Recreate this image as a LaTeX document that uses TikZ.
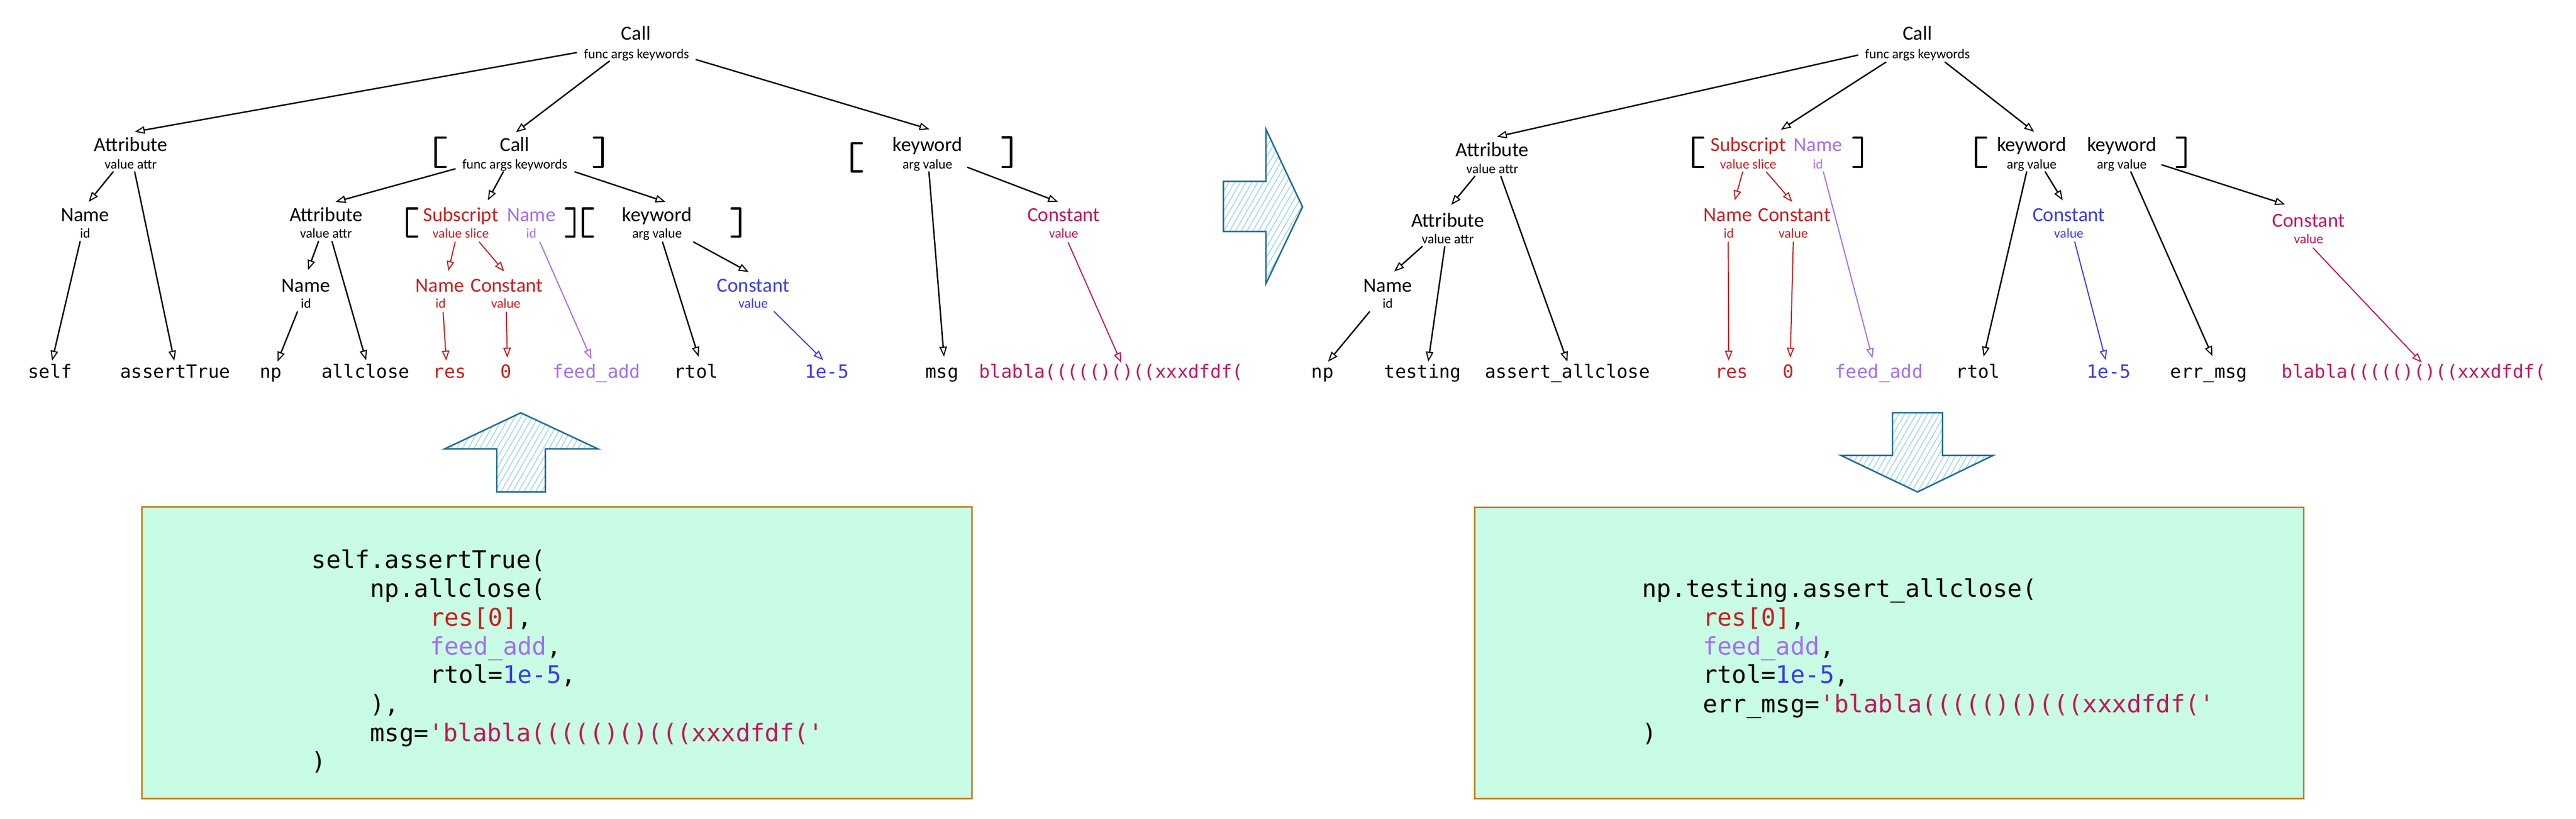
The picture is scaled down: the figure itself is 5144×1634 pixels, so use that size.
\documentclass[tikz,border=0pt]{standalone}
\usepackage{fontspec}
\setmonofont{DejaVu Sans Mono}
\newfontfamily\handfont{Carlito}
\usetikzlibrary{arrows.meta,calc,patterns.meta}
\definecolor{cRed}{HTML}{C92020}
\definecolor{cPur}{HTML}{A56EF0}
\definecolor{cBlue}{HTML}{3B3BF0}
\definecolor{cMag}{HTML}{C2185B}
\definecolor{boxFill}{HTML}{C8FCE4}
\definecolor{boxLine}{HTML}{C77D1A}
\definecolor{arrLine}{HTML}{1F6E96}
\definecolor{arrHatch}{HTML}{9AD3EA}
\newcommand\openbrk[3]{\draw[brk] (#1+20,#2) -- (#1,#2) -- (#1,#3) -- (#1+20,#3);}
\newcommand\closebrk[3]{\draw[brk] (#1-17,#2) -- (#1,#2) -- (#1,#3) -- (#1-17,#3);}
\begin{document}
\begin{tikzpicture}[x=1pt,y=-1pt,
  ttl/.style={font=\handfont\fontsize{40}{40}\selectfont, inner sep=0pt, text height=29pt, text depth=1pt},
  fld/.style={font=\handfont\fontsize{27}{27}\selectfont, inner sep=0pt, text height=18pt, text depth=4pt},
  leaf/.style={font=\ttfamily\fontsize{36.5}{36.5}\selectfont, inner sep=0pt, text height=30pt, text depth=4pt},
  code/.style={font=\ttfamily\fontsize{48.5}{57.6}\selectfont, inner sep=0pt, anchor=base west},
  ab/.style={-{Triangle[open,length=20pt,width=15pt,line width=2.2pt]}, line width=2.8pt, line cap=round},
  ared/.style={ab, draw=cRed, line width=2.2pt},
  apur/.style={ab, draw=cPur, line width=2.2pt},
  ablu/.style={ab, draw=cBlue, line width=2.2pt},
  amag/.style={ab, draw=cMag, line width=2.2pt},
  brk/.style={line width=4.5pt, line cap=round, line join=round},
  bigarrow/.style={draw=arrLine, line width=3pt, line join=miter, pattern={Lines[angle=60,distance=10pt,line width=1.6pt]}, pattern color=arrHatch},
  codebox/.style={draw=boxLine, fill=boxFill, line width=3pt, inner sep=0pt}
]
\useasboundingbox (0,0) rectangle (5144,1634);
\fill[white] (0,0) rectangle (5144,1634);

% ---------------- left tree ----------------
\node[ttl] (L0) at (1270,66) {Call};
\node[fld] (L0f) at (1271,110) {func args keywords};
\node[ttl] (LA) at (261,288) {Attribute};
\node[fld] (LAf) at (261,330) {value attr};
\node[ttl] (LN) at (170,428) {Name};
\node[fld] (LNf) at (170,468) {id};
\node[ttl] (LC) at (1028,288) {Call};
\node[fld] (LCf) at (1028,330) {func args keywords};
\node[ttl] (LA2) at (651,428) {Attribute};
\node[fld] (LA2f) at (651,468) {value attr};
\node[ttl] (LN2) at (611,569) {Name};
\node[fld] (LN2f) at (611,608) {id};
\node[ttl,text=cRed] (LS) at (920,428) {Subscript};
\node[fld,text=cRed] (LSf) at (920,468) {value slice};
\node[ttl,text=cPur] (LNp) at (1061,428) {Name};
\node[fld,text=cPur] (LNpf) at (1061,468) {id};
\node[ttl,text=cRed] (LNr) at (878,569) {Name};
\node[fld,text=cRed] (LNrf) at (880,608) {id};
\node[ttl,text=cRed] (LKr) at (1012,569) {Constant};
\node[fld,text=cRed] (LKrf) at (1010,608) {value};
\node[ttl] (LK) at (1312,428) {keyword};
\node[fld] (LKf) at (1312,468) {arg value};
\node[ttl,text=cBlue] (LCb) at (1504,569) {Constant};
\node[fld,text=cBlue] (LCbf) at (1504,608) {value};
\node[ttl] (LKt) at (1852,288) {keyword};
\node[fld] (LKtf) at (1852,330) {arg value};
\node[ttl,text=cMag] (LCm) at (2124,428) {Constant};
\node[fld,text=cMag] (LCmf) at (2124,468) {value};

\node[leaf] (lself) at (100,742) {self};
\node[leaf] (lassert) at (350,742) {assertTrue};
\node[leaf] (lnp) at (541,742) {np};
\node[leaf] (lallc) at (730,742) {allclose};
\node[leaf,text=cRed] (lres) at (898,742) {res};
\node[leaf,text=cRed] (lzero) at (1010,742) {0};
\node[leaf,text=cPur] (lfeed) at (1191,742) {feed\_add};
\node[leaf] (lrtol) at (1390,742) {rtol};
\node[leaf,text=cBlue] (le5) at (1651,742) {1e-5};
\node[leaf] (lmsg) at (1881,742) {msg};
\node[leaf,text=cMag] (lbla) at (2219,742) {blabla((((()()((xxxdfdf(};

\openbrk{870}{275}{333}
\closebrk{1203}{275}{333}
\openbrk{813}{416}{472}
\closebrk{1147}{416}{472}
\openbrk{1164}{416}{472}
\closebrk{1478}{416}{472}
\openbrk{1701}{286}{342}
\closebrk{2019}{274}{333}

\draw[ab] ($(L0f)+(-120,-5)$) -- ($(LA)+(8,-25)$);
\draw[ab] ($(L0f)+(-54,12)$) -- ($(LC)+(2,-24)$);
\draw[ab] ($(L0f)+(119,9)$) -- ($(LKt)+(4,-30)$);
\draw[ab] ($(LAf)+(-35,13)$) -- ($(LN)+(7,-25)$);
\draw[ab] ($(LAf)+(8,13)$) -- ($(lassert)+(-2,-22)$);
\draw[ab] ($(LNf)+(-10,14)$) -- ($(lself)+(4,-22)$);
\draw[ab] ($(LCf)+(-119,7)$) -- ($(LA2)+(19,-25)$);
\draw[ab] ($(LCf)+(-23,13)$) -- ($(LS)+(54,-28)$);
\draw[ab] ($(LCf)+(120,13)$) -- ($(LK)+(17,-25)$);
\draw[ab] ($(LA2f)+(-15,14)$) -- ($(LN2)+(4,-30)$);
\draw[ab] ($(LA2f)+(12,14)$) -- ($(lallc)+(1,-23)$);
\draw[ab] ($(LN2f)+(-17,14)$) -- ($(lnp)+(13,-20)$);
\draw[ared] ($(LSf)+(-11,15)$) -- ($(LNr)+(17,-28)$);
\draw[ared] ($(LSf)+(37,15)$) -- ($(LKr)+(-5,-27)$);
\draw[apur] ($(LNpf)+(17,15)$) -- ($(lfeed)+(-10,-25)$);
\draw[ared] ($(LNrf)+(5,15)$) -- ($(lres)+(-7,-22)$);
\draw[ared] ($(LKrf)+(1,15)$) -- ($(lzero)+(3,-28)$);
\draw[ab] ($(LKf)+(11,15)$) -- ($(lrtol)+(5,-30)$);
\draw[ab] ($(LKf)+(73,15)$) -- ($(LCb)+(-9,-26)$);
\draw[ablu] ($(LCbf)+(42,14)$) -- ($(le5)+(-7,-23)$);
\draw[ab] ($(LKtf)+(3,13)$) -- ($(lmsg)+(4,-30)$);
\draw[ab] ($(LKtf)+(80,4)$) -- ($(LCm)+(-11,-25)$);
\draw[amag] ($(LCmf)+(9,16)$) -- ($(lbla)+(20,-18)$);

% ---------------- right tree ----------------
\node[ttl] (R0) at (3829,66) {Call};
\node[fld] (R0f) at (3829,110) {func args keywords};
\node[ttl] (RA) at (2980,298) {Attribute};
\node[fld] (RAf) at (2980,339) {value attr};
\node[ttl] (RA2) at (2891,439) {Attribute};
\node[fld] (RA2f) at (2891,479) {value attr};
\node[ttl] (RN) at (2771,569) {Name};
\node[fld] (RNf) at (2771,608) {id};
\node[ttl,text=cRed] (RS) at (3491,288) {Subscript};
\node[fld,text=cRed] (RSf) at (3491,330) {value slice};
\node[ttl,text=cPur] (RNp) at (3630,288) {Name};
\node[fld,text=cPur] (RNpf) at (3630,330) {id};
\node[ttl,text=cRed] (RNr) at (3450,428) {Name};
\node[fld,text=cRed] (RNrf) at (3452,468) {id};
\node[ttl,text=cRed] (RKr) at (3583,428) {Constant};
\node[fld,text=cRed] (RKrf) at (3581,468) {value};
\node[ttl] (RK1) at (4057,288) {keyword};
\node[fld] (RK1f) at (4057,330) {arg value};
\node[ttl] (RK2) at (4237,288) {keyword};
\node[fld] (RK2f) at (4237,330) {arg value};
\node[ttl,text=cBlue] (RCb) at (4131,428) {Constant};
\node[fld,text=cBlue] (RCbf) at (4131,468) {value};
\node[ttl,text=cMag] (RCm) at (4610,439) {Constant};
\node[fld,text=cMag] (RCmf) at (4610,479) {value};

\node[leaf] (rnp) at (2641,742) {np};
\node[leaf] (rtest) at (2841,742) {testing};
\node[leaf] (rassert) at (3130,742) {assert\_allclose};
\node[leaf,text=cRed] (rres) at (3458,742) {res};
\node[leaf,text=cRed] (rzero) at (3571,742) {0};
\node[leaf,text=cPur] (rfeed) at (3752,742) {feed\_add};
\node[leaf] (rrtol) at (3950,742) {rtol};
\node[leaf,text=cBlue] (re5) at (4211,742) {1e-5};
\node[leaf] (rerr) at (4411,742) {err\_msg};
\node[leaf,text=cMag] (rbla) at (4820,742) {blabla((((()()((xxxdfdf(};

\openbrk{3381}{275}{333}
\closebrk{3718}{275}{333}
\openbrk{3946}{275}{333}
\closebrk{4364}{275}{333}

\draw[ab] ($(R0f)+(-119,0)$) -- ($(RA)+(9,-25)$);
\draw[ab] ($(R0f)+(-63,14)$) -- ($(RS)+(65,-29)$);
\draw[ab] ($(R0f)+(55,14)$) -- ($(RK1)+(5,-25)$);
\draw[ab] ($(RAf)+(-35,13)$) -- ($(RA2)+(7,-30)$);
\draw[ab] ($(RAf)+(17,13)$) -- ($(rassert)+(0,-20)$);
\draw[ab] ($(RA2f)+(-51,13)$) -- ($(RN)+(13,-27)$);
\draw[ab] ($(RA2f)+(-6,13)$) -- ($(rtest)+(11,-20)$);
\draw[ab] ($(RNf)+(-36,14)$) -- ($(rnp)+(11,-20)$);
\draw[ared] ($(RSf)+(-11,13)$) -- ($(RNr)+(14,-28)$);
\draw[ared] ($(RSf)+(36,13)$) -- ($(RKr)+(-4,-25)$);
\draw[apur] ($(RNpf)+(11,13)$) -- ($(rfeed)+(-13,-27)$);
\draw[ared] ($(RNrf)+(-1,15)$) -- ($(rres)+(-6,-22)$);
\draw[ared] ($(RKrf)+(0,15)$) -- ($(rzero)+(4,-28)$);
\draw[ab] ($(RK1f)+(-10,13)$) -- ($(rrtol)+(11,-30)$);
\draw[ab] ($(RK1f)+(27,13)$) -- ($(RCb)+(-12,-28)$);
\draw[ablu] ($(RCbf)+(12,15)$) -- ($(re5)+(-6,-23)$);
\draw[ab] ($(RK2f)+(18,13)$) -- ($(rerr)+(7,-31)$);
\draw[ab] ($(RK2f)+(80,-1)$) -- ($(RCm)+(-47,-31)$);
\draw[amag] ($(RCmf)+(9,16)$) -- ($(rbla)+(16,-18)$);

% ---------------- big hatched arrows ----------------
\draw[bigarrow] (2443,362) -- (2528,362) -- (2528,258) -- (2601,413) -- (2528,566) -- (2528,462) -- (2443,462) -- cycle;
\draw[bigarrow] (1040,824) -- (1194,896) -- (1089,896) -- (1089,982) -- (992,982) -- (992,896) -- (888,896) -- cycle;
\draw[bigarrow] (3779,824) -- (3879,824) -- (3879,909) -- (3980,909) -- (3829,982) -- (3676,909) -- (3779,909) -- cycle;

% ---------------- code boxes ----------------
\node[codebox, minimum width=1658pt, minimum height=582pt] (boxL) at (1112,1303) {};
\node[codebox, minimum width=1655pt, minimum height=581pt] (boxR) at (3772.5,1303.5) {};

\node[code] (cl1) at (622,1134) {self.assertTrue(};
\node[code] (cl2) at (739,1192) {np.allclose(};
\node[code] (cl3) at (858,1249) {\textcolor{cRed}{res[0]},};
\node[code] (cl4) at (858,1307) {\textcolor{cPur}{feed\_add},};
\node[code] (cl5) at (858,1364) {rtol=\textcolor{cBlue}{1e-5},};
\node[code] (cl6) at (739,1422) {),};
\node[code] (cl7) at (739,1480) {msg=\textcolor{cMag}{'blabla((((()()(((xxxdfdf('}};
\node[code] (cl8) at (622,1537) {)};

\node[code] (cr1) at (3279,1192) {np.testing.assert\_allclose(};
\node[code] (cr2) at (3400,1249) {\textcolor{cRed}{res[0]},};
\node[code] (cr3) at (3400,1307) {\textcolor{cPur}{feed\_add},};
\node[code] (cr4) at (3400,1364) {rtol=\textcolor{cBlue}{1e-5},};
\node[code] (cr5) at (3400,1422) {err\_msg=\textcolor{cMag}{'blabla((((()()(((xxxdfdf('}};
\node[code] (cr6) at (3279,1480) {)};
\end{tikzpicture}
\end{document}
